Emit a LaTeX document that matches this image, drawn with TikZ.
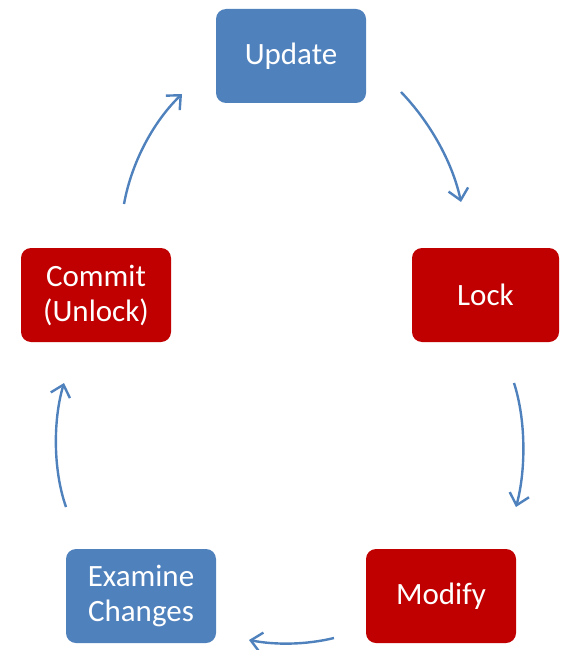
\documentclass[tikz,border=0pt]{standalone}
\usepackage{fontspec}
\setmainfont{Carlito}
\usetikzlibrary{arrows.meta}
\definecolor{boxblue}{HTML}{4F81BD}
\definecolor{boxred}{HTML}{C00000}
\tikzset{
  stagebox/.style={rounded corners=10pt, minimum width=150pt, minimum height=94pt,
    inner sep=0pt, text=white, align=center, font=\fontsize{31}{35}\selectfont},
  bluebox/.style={stagebox, fill=boxblue},
  redbox/.style={stagebox, fill=boxred},
  flow/.style={draw=boxblue, line width=2.4pt, -{Straight Barb[length=11pt,width=20pt,line width=2.4pt]}}
}
\begin{document}
\begin{tikzpicture}[x=1pt,y=-1pt]
  \useasboundingbox (0,0) rectangle (560,650);
  % stages
  \node[bluebox] (update)  at (291,56)  {Update};
  \node[redbox, minimum width=147pt] (lock) at (485.5,295) {Lock};
  \node[redbox]  (modify)  at (441,596) {Modify};
  \node[bluebox] (examine) at (141,596) {Examine\\Changes};
  \node[redbox]  (commit)  at (96,295)  {Commit\\(Unlock)};
  % anchor points of the cycle arrows
  \coordinate (a1) at (401,92);  \coordinate (b1) at (461,202);
  \coordinate (a2) at (514,383); \coordinate (b2) at (516,507);
  \coordinate (a3) at (334,638); \coordinate (b3) at (249,640);
  \coordinate (a4) at (66,507);  \coordinate (b4) at (64,383);
  \coordinate (a5) at (124,204); \coordinate (b5) at (182,94);
  % cycle arrows
  \draw[flow] (a1) .. controls (428,120) and (452,160) .. (b1);
  \draw[flow] (a2) .. controls (526,420) and (526,470) .. (b2);
  \draw[flow] (a3) .. controls (305,645) and (275,645) .. (b3);
  \draw[flow] (a4) .. controls (53,470) and (53,420) .. (b4);
  \draw[flow] (a5) .. controls (132,160) and (155,120) .. (b5);
\end{tikzpicture}
\end{document}
